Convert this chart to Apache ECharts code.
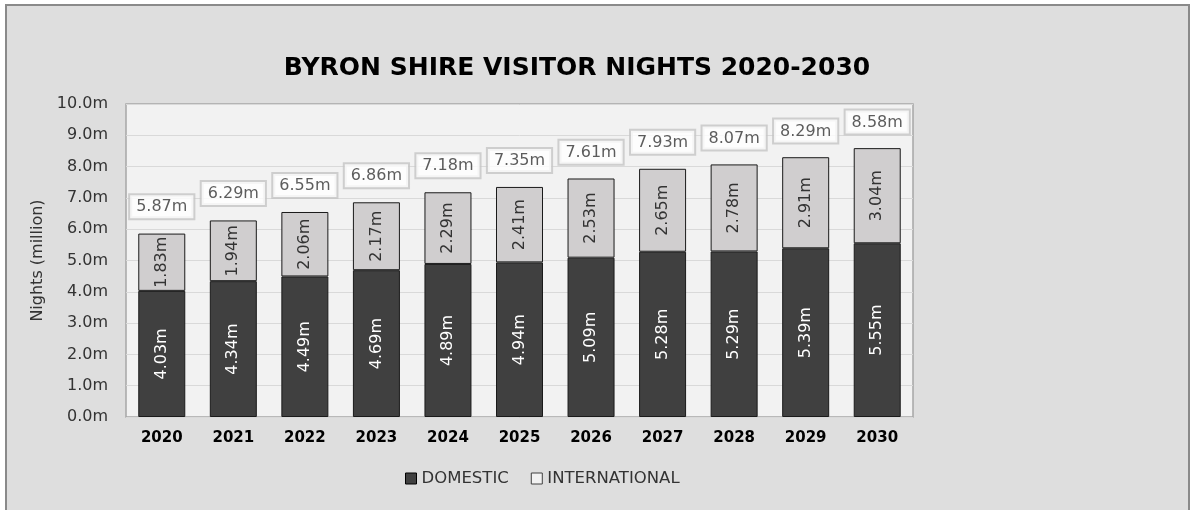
<!DOCTYPE html>
<html>
<head>
<meta charset="utf-8">
<script src="https://cdn.jsdelivr.net/npm/echarts@6/dist/echarts.min.js"></script>
<style>
  html, body { margin: 0; padding: 0; background: #ffffff; }
  #frame {
    position: absolute; left: 5px; top: 4px;
    width: 1185px; height: 520px;
    border: 2px solid #8a8a8a;
    background: #dedede;
    box-sizing: border-box;
  }
  #chart { position: absolute; left: -7px; top: -6px; width: 1193px; height: 510px; }
</style>
</head>
<body>
<div id="frame"><div id="chart"></div></div>
<script>
// Visitor nights (millions) for Byron Shire
const years = ['2020', '2021', '2022', '2023', '2024', '2025', '2026', '2027', '2028', '2029', '2030'];
const domestic = [4.03, 4.34, 4.49, 4.69, 4.89, 4.94, 5.09, 5.28, 5.29, 5.39, 5.55];
const international = [1.83, 1.94, 2.06, 2.17, 2.29, 2.41, 2.53, 2.65, 2.78, 2.91, 3.04];
const totals = [5.87, 6.29, 6.55, 6.86, 7.18, 7.35, 7.61, 7.93, 8.07, 8.29, 8.58];

const FONT = '"DejaVu Sans", "Liberation Sans", sans-serif';
const fmt = v => v.toFixed(2) + 'm';

const chart = echarts.init(document.getElementById('chart'));
chart.setOption({
  animation: false,
  backgroundColor: 'transparent',
  textStyle: { fontFamily: FONT },
  title: {
    text: 'BYRON SHIRE VISITOR NIGHTS 2020-2030',
    left: 572, top: 51, textAlign: 'center',
    textStyle: { fontFamily: FONT, fontSize: 25, fontWeight: 'bold', color: '#000000' }
  },
  legend: {
    bottom: 18, left: 400,
    itemWidth: 11, itemHeight: 11, itemGap: 22,
    textStyle: { fontFamily: FONT, fontSize: 16.5, color: '#333333' },
    data: [
      { name: 'DOMESTIC', icon: 'rect', itemStyle: { color: '#404040', borderColor: '#000', borderWidth: 1 } },
      { name: 'INTERNATIONAL', icon: 'rect', itemStyle: { color: '#f2f2f2', borderColor: '#404040', borderWidth: 1 } }
    ]
  },
  grid: {
    left: 126, top: 104, right: 280, bottom: 93,
    show: true, backgroundColor: '#f2f2f2', borderColor: '#a6a6a6', borderWidth: 1.5
  },
  xAxis: {
    type: 'category',
    data: years,
    axisLine: { show: false },
    axisTick: { show: false },
    axisLabel: { margin: 14, fontFamily: FONT, fontSize: 15, fontWeight: 'bold', color: '#000000' }
  },
  yAxis: {
    type: 'value',
    min: 0, max: 10, interval: 1,
    name: 'Nights (million)',
    nameLocation: 'middle', nameGap: 76, nameRotate: 90,
    nameTextStyle: { fontFamily: FONT, fontSize: 16, color: '#333333' },
    axisLine: { show: false },
    axisTick: { show: false },
    axisLabel: { margin: 18, fontFamily: FONT, fontSize: 16, color: '#333333', formatter: v => v.toFixed(1) + 'm' },
    splitLine: { lineStyle: { color: '#d9d9d9', width: 1 } }
  },
  series: [
    {
      name: 'DOMESTIC', type: 'bar', stack: 'nights', barWidth: 47,
      data: domestic,
      itemStyle: { color: '#404040', borderColor: '#1a1a1a', borderWidth: 1 },
      label: {
        show: true, position: 'inside', rotate: 90,
        fontFamily: FONT, fontSize: 16, color: '#ffffff',
        formatter: p => fmt(p.value)
      }
    },
    {
      name: 'INTERNATIONAL', type: 'bar', stack: 'nights', barWidth: 47,
      data: international,
      itemStyle: { color: '#d0cecf', borderColor: '#1a1a1a', borderWidth: 1 },
      label: {
        show: true, position: 'inside', rotate: 90,
        fontFamily: FONT, fontSize: 16, color: '#333333',
        formatter: p => fmt(p.value)
      }
    },
    {
      name: 'TOTAL', type: 'scatter',
      data: totals,
      symbolSize: 0,
      silent: true,
      label: {
        show: true, position: 'top', distance: 15,
        fontFamily: FONT, fontSize: 16, color: '#333333',
        backgroundColor: '#ffffff', borderColor: '#c4c4c4', borderWidth: 2,
        padding: [4, 6, 3, 6],
        formatter: p => fmt(p.value)
      }
    }
  ]
});
</script>
</body>
</html>
